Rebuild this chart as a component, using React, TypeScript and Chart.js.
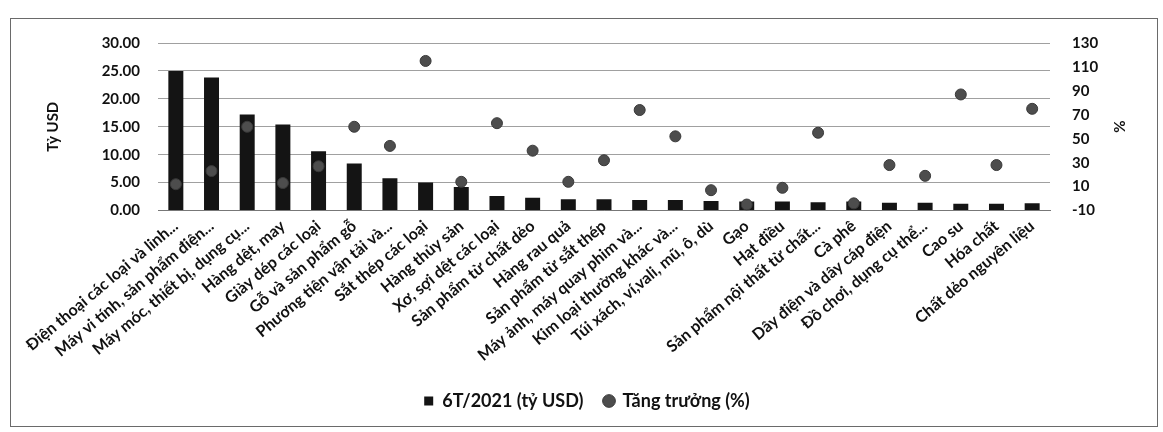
import { useEffect, useRef } from "react";
import { Chart, registerables } from "chart.js";

Chart.register(...registerables);

const categories: string[] = [
  "Điện thoại các loại và linh...",
  "Máy vi tính, sản phẩm điện...",
  "Máy móc, thiết bị, dụng cụ...",
  "Hàng dệt, may",
  "Giày dép các loại",
  "Gỗ và sản phẩm gỗ",
  "Phương tiện vận tải và...",
  "Sắt thép các loại",
  "Hàng thủy sản",
  "Xơ, sợi dệt các loại",
  "Sản phẩm từ chất dẻo",
  "Hàng rau quả",
  "Sản phẩm từ sắt thép",
  "Máy ảnh, máy quay phim và...",
  "Kim loại thường khác và...",
  "Túi xách, ví,vali, mũ, ô, dù",
  "Gạo",
  "Hạt điều",
  "Sản phẩm nội thất từ chất...",
  "Cà phê",
  "Dây điện và dây cáp điện",
  "Đồ chơi, dụng cụ thể...",
  "Cao su",
  "Hóa chất",
  "Chất dẻo nguyên liệu",
];

const exportValues: number[] = [
  25.0, 23.8, 17.2, 15.4, 10.6, 8.4, 5.8, 5.0, 4.2, 2.6, 2.3, 2.0, 2.0,
  1.9, 1.9, 1.7, 1.6, 1.6, 1.5, 1.6, 1.4, 1.4, 1.2, 1.2, 1.3,
];

const growthValues: number[] = [
  12, 23, 60, 13, 27, 60, 44, 115, 14, 63, 40, 14, 32, 74, 52, 7, -5, 9, 55,
  -4, 28, 19, 87, 28, 75,
];

const seriesNames: string[] = ["6T/2021 (tỷ USD)", "Tăng trưởng (%)"];
const leftAxisRange: number[] = [0, 30, 5];
const rightAxisRange: number[] = [-10, 130, 20];
const axisTitles: string[] = ["Tỷ USD", "%"];

const FONT = "Lato, 'Noto Sans', sans-serif";

export default function App() {
  const canvasRef = useRef<HTMLCanvasElement | null>(null);

  useEffect(() => {
    document.body.style.margin = "0";
    const canvas = canvasRef.current;
    if (!canvas) return;

    const framePlugin = {
      id: "frame",
      beforeDraw(chart: any) {
        const { ctx, width, height } = chart;
        ctx.save();
        ctx.fillStyle = "#ffffff";
        ctx.fillRect(0, 0, width, height);
        ctx.strokeStyle = "#6a6a6a";
        ctx.lineWidth = 1;
        ctx.strokeRect(10.5, 18.5, width - 16, height - 24);
        ctx.restore();
      },
    };

    const chart = new Chart(canvas, {
      type: "bar",
      data: {
        labels: categories,
        datasets: [
          {
            type: "line",
            label: seriesNames[1],
            data: growthValues,
            yAxisID: "y1",
            showLine: false,
            pointRadius: 5.5,
            pointHoverRadius: 5.5,
            pointStyle: "circle",
            backgroundColor: "#4d4d4d",
            borderColor: "#3a3a3a",
            borderWidth: 1,
            order: 0,
          } as any,
          {
            type: "bar",
            label: seriesNames[0],
            data: exportValues,
            yAxisID: "y",
            backgroundColor: "#141414",
            borderWidth: 0,
            barPercentage: 0.42,
            categoryPercentage: 1.0,
            pointStyle: "rect",
            order: 1,
          } as any,
        ],
      },
      options: {
        animation: false,
        responsive: false,
        maintainAspectRatio: false,
        layout: { padding: { top: 43, right: 33, bottom: 12, left: 44 } },
        plugins: {
          legend: {
            position: "bottom",
            reverse: true,
            labels: {
              usePointStyle: true,
              boxWidth: 9,
              boxHeight: 9,
              padding: 21,
              color: "#111",
              font: { family: FONT, size: 18, weight: "bold" },
            },
          },
          tooltip: { enabled: false },
        },
        scales: {
          x: {
            grid: { display: false, drawTicks: false },
            border: { display: true, color: "#777" },
            ticks: {
              autoSkip: false,
              minRotation: 40,
              maxRotation: 40,
              padding: 6,
              color: "#111",
              font: { family: FONT, size: 16, weight: "bold" },
            },
          },
          y: {
            position: "left",
            min: leftAxisRange[0],
            max: leftAxisRange[1],
            afterFit: (scale: any) => {
              scale.width = 114;
            },
            grid: { color: "#a0a0a0", drawTicks: false },
            border: { display: false },
            ticks: {
              stepSize: leftAxisRange[2],
              padding: 18,
              color: "#111",
              font: { family: FONT, size: 15, weight: "bold" },
              callback: (v: any) => Number(v).toFixed(2),
            },
            title: {
              display: true,
              text: axisTitles[0],
              color: "#111",
              padding: { top: 0, bottom: 0 },
              font: { family: FONT, size: 15, weight: "bold" },
            },
          },
          y1: {
            position: "right",
            min: rightAxisRange[0],
            max: rightAxisRange[1],
            afterFit: (scale: any) => {
              scale.width = 80;
            },
            grid: { display: false, drawTicks: false },
            border: { display: false },
            ticks: {
              stepSize: rightAxisRange[2],
              padding: 22,
              color: "#111",
              font: { family: FONT, size: 15, weight: "bold" },
            },
            title: {
              display: true,
              text: axisTitles[1],
              color: "#111",
              padding: { top: 2, bottom: 0 },
              font: { family: FONT, size: 15, weight: "bold" },
            },
          },
        },
      },
      plugins: [framePlugin],
    });

    return () => chart.destroy();
  }, []);

  return (
    <div style={{ width: 1163, height: 432 }}>
      <canvas ref={canvasRef} width={1163} height={432} style={{ display: "block" }} />
    </div>
  );
}
